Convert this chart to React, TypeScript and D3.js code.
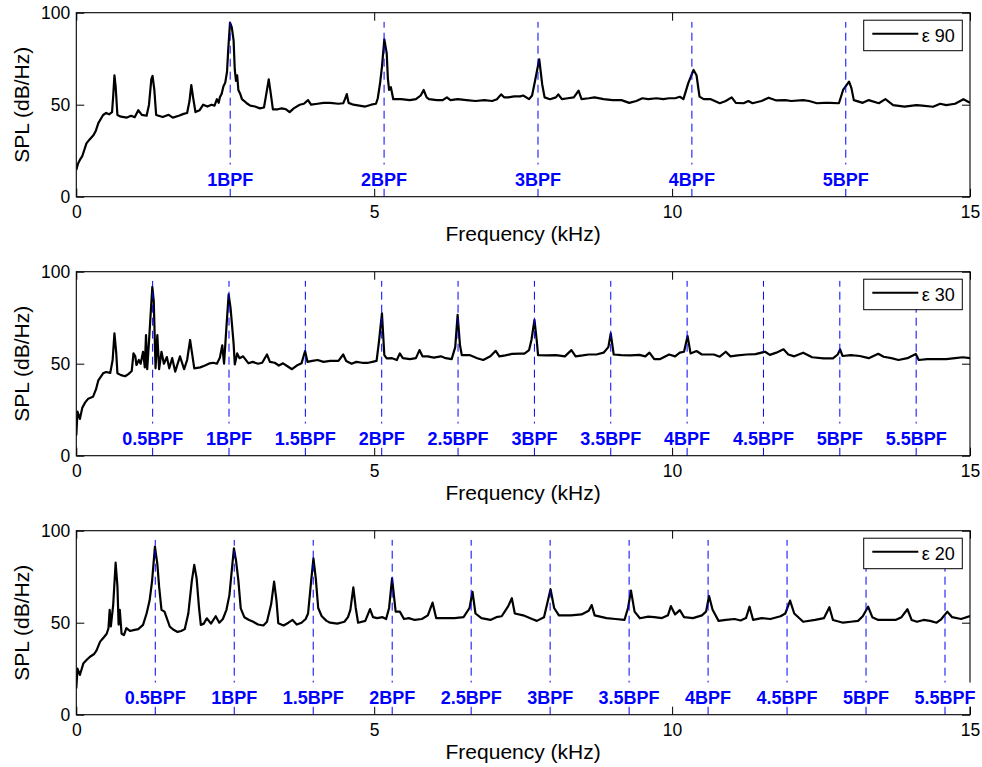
import React, { useEffect, useRef } from 'react';
import * as d3 from 'd3';

type Pt = [number, number]; // [frequency kHz, SPL dB/Hz]

// Measured spectra, one per blade angle
const eps90Spectrum: Pt[] = [
  [0, 14.5], [0.03, 18], [0.06, 20], [0.1, 22], [0.17, 29], [0.22, 31], [0.29, 33.5], [0.33, 36], [0.37, 40],
  [0.45, 44.4], [0.5, 45.5], [0.55, 44.8], [0.6, 46], [0.62, 55], [0.64, 66], [0.66, 60], [0.69, 44.4], [0.75, 43.5],
  [0.85, 43], [0.92, 44], [0.98, 43.2], [1.04, 47], [1.1, 44.5], [1.18, 44], [1.22, 50], [1.26, 64], [1.28, 65.6],
  [1.31, 58], [1.34, 44.4], [1.45, 43.3], [1.55, 44.5], [1.62, 43], [1.72, 44], [1.8, 45], [1.86, 45.5], [1.9, 52],
  [1.93, 60.7], [1.96, 54], [2.0, 46], [2.07, 47], [2.13, 50], [2.2, 49], [2.27, 50], [2.32, 49.5], [2.36, 53],
  [2.39, 51], [2.41, 54], [2.44, 56], [2.47, 60], [2.5, 62], [2.53, 68], [2.55, 80], [2.58, 94.6], [2.61, 92],
  [2.64, 85], [2.66, 69], [2.68, 63], [2.7, 66], [2.72, 58], [2.75, 56], [2.78, 53], [2.82, 52], [2.86, 50.8],
  [2.92, 49.5], [3.0, 49], [3.08, 48], [3.15, 48.5], [3.19, 56], [3.23, 63.8], [3.26, 57], [3.3, 47.5], [3.38, 47.5],
  [3.45, 48], [3.52, 47.5], [3.58, 46], [3.65, 48], [3.75, 50], [3.82, 50.5], [3.89, 52.5], [3.94, 50], [4.05, 50.5],
  [4.15, 51], [4.26, 51], [4.4, 50.5], [4.48, 50.8], [4.51, 53], [4.54, 55.8], [4.57, 51], [4.65, 50], [4.75, 49.5],
  [4.85, 49], [4.95, 50], [5.03, 50.5], [5.06, 53.5], [5.1, 62], [5.13, 70.6], [5.17, 85.5], [5.21, 78], [5.23, 64],
  [5.25, 58], [5.28, 59.5], [5.32, 53], [5.45, 53], [5.6, 52.5], [5.7, 53], [5.78, 55], [5.83, 58], [5.88, 54],
  [5.92, 53], [6.05, 52.5], [6.15, 52.5], [6.22, 54], [6.28, 52.5], [6.4, 53], [6.55, 52.5], [6.7, 52], [6.85, 52.5],
  [6.98, 52], [7.06, 53], [7.13, 55.6], [7.18, 54], [7.25, 54], [7.35, 54.5], [7.45, 54.5], [7.5, 55], [7.6, 53],
  [7.65, 55], [7.7, 63], [7.77, 74.7], [7.82, 61], [7.86, 54], [7.95, 53], [8.05, 54], [8.09, 55.6], [8.15, 53],
  [8.25, 53.5], [8.35, 54], [8.43, 57.6], [8.48, 53], [8.6, 53.5], [8.7, 54], [8.85, 53], [9.0, 52.5], [9.15, 52.5],
  [9.28, 51], [9.4, 52], [9.5, 53.5], [9.6, 53], [9.74, 53.5], [9.85, 53], [9.95, 53.5], [10.05, 53.5], [10.13, 54.3],
  [10.19, 53], [10.27, 61.6], [10.36, 68.9], [10.41, 66], [10.46, 54.4], [10.53, 53], [10.65, 53], [10.8, 50.8],
  [10.9, 52], [11.0, 54], [11.07, 51], [11.2, 50.8], [11.28, 52], [11.35, 50.8], [11.5, 52], [11.62, 53.8],
  [11.75, 52.3], [11.9, 52.5], [12.0, 52], [12.2, 52.5], [12.3, 52], [12.43, 50.8], [12.55, 51], [12.65, 51],
  [12.8, 50.8], [12.87, 58], [12.97, 62.5], [13.01, 59], [13.05, 52.5], [13.2, 51], [13.3, 52.5], [13.47, 50.8],
  [13.58, 53], [13.71, 49.8], [13.9, 49], [14.1, 49.8], [14.2, 49.5], [14.38, 48.9], [14.5, 50.5], [14.6, 49.8],
  [14.75, 50.5], [14.89, 53], [15.0, 51],
];

const eps30Spectrum: Pt[] = [
  [0, 11], [0.02, 24], [0.06, 20], [0.1, 26], [0.15, 29], [0.2, 31], [0.28, 32], [0.33, 36], [0.37, 41], [0.45, 44.8],
  [0.5, 45.5], [0.57, 45], [0.61, 52], [0.64, 66.5], [0.67, 56], [0.69, 44.8], [0.75, 43.8], [0.82, 43.2], [0.88, 44.5],
  [0.93, 46], [0.96, 55.6], [0.99, 54], [1.01, 49.3], [1.05, 52], [1.08, 50], [1.12, 56.5], [1.15, 48], [1.17, 65.6],
  [1.19, 47], [1.22, 62], [1.24, 72.8], [1.276, 91.8], [1.3, 84], [1.33, 47.5], [1.36, 65.6], [1.39, 47], [1.43, 56.5],
  [1.47, 50], [1.52, 53.6], [1.56, 47.5], [1.61, 53], [1.66, 45.7], [1.74, 54], [1.81, 47], [1.86, 52], [1.91, 62.9],
  [1.98, 47.5], [2.08, 48], [2.16, 49], [2.24, 50.2], [2.3, 50.5], [2.36, 50], [2.41, 53.3], [2.45, 60], [2.48, 50],
  [2.52, 70], [2.557, 87.7], [2.59, 80], [2.64, 61], [2.66, 49.6], [2.7, 55.6], [2.74, 53], [2.8, 54], [2.89, 50.2],
  [2.96, 51], [3.05, 50], [3.12, 50.5], [3.2, 55], [3.25, 51], [3.33, 50.5], [3.4, 49], [3.47, 50.2], [3.55, 48.5],
  [3.62, 47], [3.7, 49], [3.78, 50.2], [3.84, 56.9], [3.88, 51], [3.96, 51.5], [4.05, 52], [4.15, 51], [4.26, 51.5],
  [4.4, 51.5], [4.48, 55], [4.53, 51.5], [4.62, 50], [4.7, 51], [4.8, 50.5], [4.9, 50.5], [4.97, 51], [5.04, 51.5],
  [5.08, 62], [5.13, 77.4], [5.17, 54.7], [5.21, 52.9], [5.3, 53], [5.38, 52], [5.43, 55.6], [5.48, 53], [5.6, 52.5],
  [5.7, 53], [5.76, 57.4], [5.81, 54], [5.9, 54], [6.0, 53.3], [6.12, 54], [6.2, 53], [6.3, 52.5], [6.36, 59],
  [6.4, 76.5], [6.44, 60], [6.47, 54.7], [6.6, 54.7], [6.73, 53], [6.83, 52], [6.95, 54], [7.04, 57], [7.1, 54],
  [7.2, 54.5], [7.31, 55.3], [7.45, 55.5], [7.52, 55.5], [7.6, 57.4], [7.64, 63], [7.69, 73.8], [7.73, 62],
  [7.75, 54.7], [7.9, 54.5], [8.05, 54.7], [8.2, 54], [8.31, 57.4], [8.38, 54], [8.5, 54.5], [8.6, 55], [8.73, 55],
  [8.85, 56], [8.93, 59], [8.97, 66.5], [9.02, 55], [9.15, 54.7], [9.3, 54.5], [9.45, 54.8], [9.55, 54], [9.62, 56],
  [9.7, 52.5], [9.8, 52.5], [9.95, 55], [10.05, 54], [10.13, 56], [10.2, 56.5], [10.26, 65], [10.31, 55.6],
  [10.41, 56.9], [10.5, 55], [10.6, 55], [10.7, 55], [10.8, 53.8], [10.9, 56.5], [10.98, 54], [11.1, 54.5],
  [11.25, 55], [11.4, 55.2], [11.56, 56.5], [11.64, 54.8], [11.75, 56], [11.87, 57.8], [11.95, 55], [12.05, 54],
  [12.2, 56], [12.35, 53.5], [12.54, 52.9], [12.7, 52.9], [12.78, 55], [12.82, 57.8], [12.86, 54.2], [13.0, 54.7],
  [13.15, 54.2], [13.3, 53], [13.46, 55.4], [13.55, 53.8], [13.68, 53], [13.8, 52], [13.95, 53], [14.09, 55.3],
  [14.14, 52], [14.28, 52.5], [14.45, 52.5], [14.6, 52.5], [14.75, 53], [14.88, 53.5], [15.0, 53],
];

const eps20Spectrum: Pt[] = [
  [0, 14.3], [0.02, 25], [0.06, 21.6], [0.12, 28], [0.18, 30], [0.23, 31.5], [0.3, 33], [0.34, 35], [0.4, 39.7],
  [0.46, 42], [0.51, 44], [0.54, 47], [0.56, 57], [0.58, 48], [0.62, 60], [0.66, 82.6], [0.69, 70], [0.71, 49],
  [0.73, 57], [0.76, 44], [0.8, 43.3], [0.84, 47], [0.9, 45.5], [0.96, 46], [1.04, 46.5], [1.12, 48.8], [1.18, 55],
  [1.23, 62], [1.27, 72], [1.32, 91.3], [1.36, 82], [1.39, 69.6], [1.43, 57], [1.48, 56], [1.57, 47.8], [1.64, 46],
  [1.7, 45], [1.76, 45.5], [1.82, 46.5], [1.88, 55], [1.94, 73], [1.98, 81.4], [2.02, 74], [2.06, 58], [2.09, 48.8],
  [2.14, 49.5], [2.19, 52.4], [2.26, 49.5], [2.34, 53.5], [2.4, 50], [2.46, 52], [2.52, 57], [2.57, 65], [2.62, 82],
  [2.646, 90.4], [2.68, 84], [2.72, 73], [2.76, 57.8], [2.82, 53], [2.9, 51.5], [2.97, 50.5], [3.05, 49], [3.14, 48.5],
  [3.2, 50.5], [3.27, 60], [3.32, 72.3], [3.36, 62], [3.39, 49.7], [3.48, 48.5], [3.56, 50], [3.63, 51.5], [3.7, 49],
  [3.78, 50], [3.85, 52], [3.89, 55], [3.94, 72], [3.98, 85], [4.02, 74], [4.06, 58], [4.12, 53.5], [4.2, 51],
  [4.26, 50], [4.38, 49.5], [4.5, 50.5], [4.56, 53], [4.6, 57], [4.65, 69.2], [4.69, 58], [4.73, 50], [4.85, 51],
  [4.93, 57.4], [4.98, 53], [5.05, 52.5], [5.14, 53], [5.2, 52], [5.25, 58], [5.3, 74.1], [5.36, 56], [5.43, 56],
  [5.5, 52], [5.58, 52.5], [5.68, 51.5], [5.8, 52], [5.9, 54], [5.98, 60.9], [6.04, 52.5], [6.2, 52.5], [6.35, 52.5],
  [6.5, 53], [6.6, 58], [6.65, 66.8], [6.7, 55], [6.8, 52.5], [6.95, 51.5], [7.05, 53], [7.14, 53.5], [7.25, 59],
  [7.31, 63.3], [7.36, 55], [7.5, 54], [7.65, 52], [7.73, 51], [7.85, 53], [7.96, 68.2], [8.02, 58], [8.1, 54],
  [8.3, 54], [8.48, 54.5], [8.6, 56.5], [8.65, 59.6], [8.7, 54], [8.9, 52.5], [9.05, 52], [9.2, 51.5], [9.26, 58],
  [9.31, 67.4], [9.37, 56], [9.46, 52.4], [9.6, 53.3], [9.7, 53], [9.83, 52.5], [9.93, 54], [9.98, 59], [10.05, 54.5],
  [10.13, 56.8], [10.2, 53], [10.35, 52.5], [10.5, 54], [10.57, 56], [10.62, 64.5], [10.68, 57], [10.78, 51],
  [10.9, 51.5], [11.05, 52], [11.15, 51.2], [11.24, 52.5], [11.3, 58.7], [11.36, 51.5], [11.5, 52.5], [11.65, 52],
  [11.82, 53.5], [11.9, 55], [11.98, 62], [12.05, 55], [12.2, 50.5], [12.4, 51.5], [12.55, 52.5], [12.64, 58.4],
  [12.7, 51.5], [12.87, 50], [13.0, 50.5], [13.12, 51], [13.2, 53.5], [13.29, 58.7], [13.36, 53], [13.46, 51.5],
  [13.6, 51.5], [13.75, 51.5], [13.85, 53], [13.95, 57.3], [14.02, 51.5], [14.11, 50.5], [14.22, 51.5], [14.33, 51],
  [14.44, 50], [14.52, 52], [14.62, 56], [14.7, 53], [14.85, 52], [15.0, 53.6],
];

// Blade-pass frequency (kHz) of each case and the harmonic orders marked on it
const bladePassFreqs = [2.583, 2.563, 2.651];
const wholeOrders = [1, 2, 3, 4, 5];
const halfOrders = [0.5, 1, 1.5, 2, 2.5, 3, 3.5, 4, 4.5, 5, 5.5];
const legendLabels = ['ε 90', 'ε 30', 'ε 20'];

const xTicks = [0, 5, 10, 15];
const yTicks = [0, 50, 100];
const xLabel = 'Frequency (kHz)';
const yLabel = 'SPL (dB/Hz)';

const W = 982;
const H = 767;
const PLOT_LEFT = 76.3;
const PLOT_RIGHT = 970;
const PANEL_H = 184;
const PANEL_TOPS = [12.7, 271.7, 530.7];
const MARKER_TOP = 95; // dB reached by harmonic marker lines
const LABEL_LEVEL = 9.5; // dB at which harmonic labels sit
const FONT = '"Liberation Sans", Arial, Helvetica, sans-serif';

const panels = [
  { spectrum: eps90Spectrum, bpf: bladePassFreqs[0], orders: wholeOrders, legend: legendLabels[0] },
  { spectrum: eps30Spectrum, bpf: bladePassFreqs[1], orders: halfOrders, legend: legendLabels[1] },
  { spectrum: eps20Spectrum, bpf: bladePassFreqs[2], orders: halfOrders, legend: legendLabels[2] },
];

export default function App() {
  const ref = useRef<SVGSVGElement | null>(null);

  useEffect(() => {
    const svg = d3.select(ref.current);
    svg.selectAll('*').remove();
    svg.append('rect').attr('width', W).attr('height', H).attr('fill', '#fff');

    const x = d3.scaleLinear().domain([0, 15]).range([PLOT_LEFT, PLOT_RIGHT]);

    panels.forEach((p, i) => {
      const top = PANEL_TOPS[i];
      const y = d3.scaleLinear().domain([0, 100]).range([top + PANEL_H, top]);
      const g = svg.append('g');
      const clipId = `plot-clip-${i}`;
      g.append('clipPath').attr('id', clipId)
        .append('rect').attr('x', PLOT_LEFT).attr('y', top)
        .attr('width', PLOT_RIGHT - PLOT_LEFT).attr('height', PANEL_H);

      const line = d3.line<Pt>().x(d => x(d[0])).y(d => y(d[1]));
      g.append('path').datum(p.spectrum)
        .attr('d', line)
        .attr('fill', 'none')
        .attr('stroke', '#000')
        .attr('stroke-width', 2.2)
        .attr('stroke-linejoin', 'round')
        .attr('clip-path', `url(#${clipId})`);

      // harmonic marker lines
      p.orders.forEach(o => {
        const fx = x(o * p.bpf);
        g.append('line')
          .attr('x1', fx).attr('x2', fx)
          .attr('y1', y(0)).attr('y2', y(MARKER_TOP))
          .attr('stroke', '#0000ff').attr('stroke-width', 1)
          .attr('stroke-dasharray', '8,5');
      });

      // axes with inward ticks on all four sides
      const styleAxis = (sel: any) => {
        sel.select('.domain').remove();
        sel.attr('font-family', FONT).attr('font-size', 17.5);
        sel.selectAll('line').attr('stroke', '#000');
        sel.selectAll('text').attr('fill', '#000');
      };
      g.append('g').attr('transform', `translate(0,${y(0)})`)
        .call(d3.axisBottom(x).tickValues(xTicks).tickSizeInner(-8).tickSizeOuter(0).tickPadding(9).tickFormat(d3.format('d')))
        .call(styleAxis);
      g.append('g').attr('transform', `translate(0,${y(100)})`)
        .call(d3.axisTop(x).tickValues(xTicks).tickSizeInner(-8).tickSizeOuter(0).tickFormat(() => ''))
        .call(styleAxis);
      g.append('g').attr('transform', `translate(${PLOT_LEFT},0)`)
        .call(d3.axisLeft(y).tickValues(yTicks).tickSizeInner(-8).tickSizeOuter(0).tickPadding(6).tickFormat(d3.format('d')))
        .call(styleAxis);
      g.append('g').attr('transform', `translate(${PLOT_RIGHT},0)`)
        .call(d3.axisRight(y).tickValues(yTicks).tickSizeInner(-8).tickSizeOuter(0).tickFormat(() => ''))
        .call(styleAxis);

      g.append('rect')
        .attr('x', PLOT_LEFT).attr('y', top)
        .attr('width', PLOT_RIGHT - PLOT_LEFT).attr('height', PANEL_H)
        .attr('fill', 'none').attr('stroke', '#000').attr('stroke-width', 1.1);

      // harmonic labels on white boxes
      p.orders.forEach(o => {
        const fx = x(o * p.bpf);
        const baseline = y(LABEL_LEVEL) + 6.3;
        const lg = g.append('g');
        const bg = lg.append('rect').attr('fill', '#fff');
        const t = lg.append('text')
          .attr('x', fx).attr('y', baseline)
          .attr('text-anchor', 'middle')
          .attr('font-family', FONT).attr('font-size', 18).attr('font-weight', 'bold')
          .attr('fill', '#0000ff')
          .text(`${o}BPF`);
        const bb = (t.node() as SVGTextElement).getBBox();
        bg.attr('x', bb.x - 3).attr('width', bb.width + 6)
          .attr('y', baseline - 21).attr('height', 24);
      });

      // legend
      const lx = 863.7;
      const ly = top + 7.5;
      g.append('rect').attr('x', lx).attr('y', ly).attr('width', 98.6).attr('height', 30.5)
        .attr('fill', '#fff').attr('stroke', '#000').attr('stroke-width', 1);
      g.append('line').attr('x1', 872.3).attr('x2', 918.3)
        .attr('y1', top + 21).attr('y2', top + 21)
        .attr('stroke', '#000').attr('stroke-width', 2);
      g.append('text').attr('x', 921.7).attr('y', top + 29)
        .attr('font-family', FONT).attr('font-size', 18).attr('fill', '#000')
        .text(p.legend);

      // axis titles
      g.append('text')
        .attr('x', (PLOT_LEFT + PLOT_RIGHT) / 2).attr('y', y(0) + 44)
        .attr('text-anchor', 'middle')
        .attr('font-family', FONT).attr('font-size', 21).attr('fill', '#000')
        .text(xLabel);
      g.append('text')
        .attr('transform', `translate(29,${top + PANEL_H / 2}) rotate(-90)`)
        .attr('text-anchor', 'middle')
        .attr('font-family', FONT).attr('font-size', 21).attr('fill', '#000')
        .text(yLabel);
    });
  }, []);

  return (
    <svg
      ref={ref}
      width={W}
      height={H}
      style={{ position: 'absolute', left: 0, top: 0, display: 'block' }}
    />
  );
}
